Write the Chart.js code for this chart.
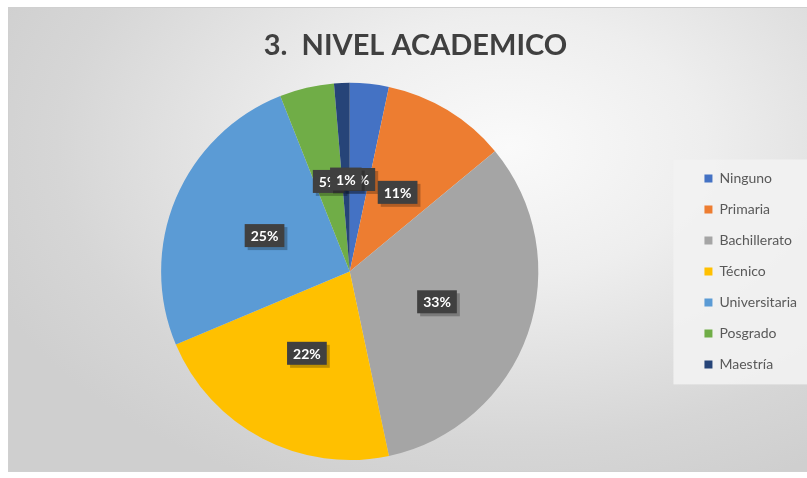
<!DOCTYPE html>
<html>
<head>
<meta charset="utf-8">
<script src="https://cdn.jsdelivr.net/npm/chart.js@4"></script>
<style>
html,body{margin:0;padding:0;background:#fff;width:807px;height:478px;overflow:hidden;}
#frame{position:absolute;left:8px;top:7px;width:805px;height:463px;border:1px solid #d0d0d0;
background:radial-gradient(ellipse 70% 80% at 62% 30%, #fafafa 0%, #eeeeee 35%, #d6d6d6 80%, #cfcfcf 100%);}
#wrap{position:absolute;left:0;top:0;width:807px;height:478px;}
</style>
</head>
<body>
<div id="frame"></div>
<div id="wrap"><canvas id="c" width="807" height="478"></canvas></div>
<script>
const titleText = "3.  NIVEL ACADEMICO";
const categories = ["Ninguno","Primaria","Bachillerato","Técnico","Universitaria","Posgrado","Maestría"];
const counts = [5, 16, 49, 33, 38, 7, 2];
const colors = ["#4472C4","#ED7D31","#A5A5A5","#FFC000","#5B9BD5","#70AD47","#264478"];

const titleShift = {
  id: 'titleShift',
  afterLayout(chart) {
    if (chart.titleBlock) { chart.titleBlock.left += 6; chart.titleBlock.right += 6; }
  }
};

const legendBg = {
  id: 'legendBg',
  beforeDraw(chart) {
    const l = chart.legend; const ctx = chart.ctx;
    const c = (l.top + l.bottom) / 2;
    ctx.save();
    ctx.fillStyle = 'rgba(242,242,242,0.9)';
    ctx.fillRect(l.left - 14, c - 112, 200, 225);
    ctx.restore();
  }
};

const pctLabels = {
  id: 'pctLabels',
  afterDatasetsDraw(chart) {
    const ctx = chart.ctx;
    const meta = chart.getDatasetMeta(0);
    const data = chart.data.datasets[0].data;
    const total = data.reduce((a, b) => a + b, 0);
    ctx.save();
    ctx.font = 'bold 14px "Lato", sans-serif';
    ctx.textAlign = 'center';
    ctx.textBaseline = 'middle';
    meta.data.forEach((arc, i) => {
      const p = arc.getProps(['x','y','startAngle','endAngle','outerRadius'], true);
      const mid = (p.startAngle + p.endAngle) / 2;
      const r = p.outerRadius * 0.49;
      const x = p.x + Math.cos(mid) * r;
      const y = p.y + Math.sin(mid) * r;
      const txt = Math.round(data[i] / total * 100) + '%';
      const w = ctx.measureText(txt).width + 12;
      const h = 23;
      ctx.fillStyle = 'rgba(0,0,0,0.25)';
      ctx.fillRect(x - w/2 + 3, y - h/2 + 3, w, h);
      ctx.fillStyle = '#404040';
      ctx.fillRect(x - w/2, y - h/2, w, h);
      ctx.fillStyle = '#ffffff';
      ctx.fillText(txt, x, y + 1);
    });
    ctx.restore();
  }
};

new Chart(document.getElementById('c'), {
  type: 'pie',
  data: {
    labels: categories,
    datasets: [{ data: counts, backgroundColor: colors, borderWidth: 0 }]
  },
  options: {
    responsive: false,
    animation: false,
    layout: { padding: { left: 12, right: 0, top: 0, bottom: 18 } },
    plugins: {
      tooltip: { enabled: false },
      title: {
        display: true, text: titleText, color: '#404040',
        font: { family: '"Lato", sans-serif', size: 29, weight: 'bold' },
        padding: { top: 28, bottom: 20 }
      },
      legend: {
        position: 'right',
        fullSize: false,
        labels: {
          color: '#595959', boxWidth: 8, boxHeight: 8, padding: 17,
          font: { family: '"Lato", sans-serif', size: 14 }
        }
      }
    }
  },
  plugins: [titleShift, legendBg, pctLabels]
});
</script>
</body>
</html>
